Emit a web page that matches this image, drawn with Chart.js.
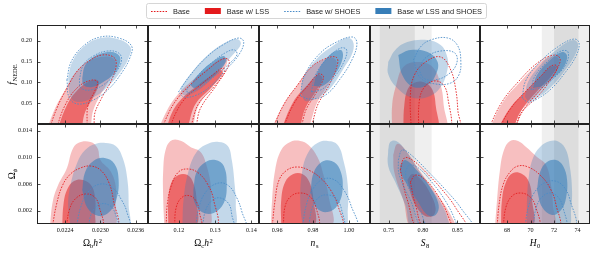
<!DOCTYPE html>
<html><head><meta charset="utf-8">
<script src="https://cdn.jsdelivr.net/npm/chart.js"></script>
<style>
html,body{margin:0;padding:0;background:#fff;}
#wrap{position:relative;width:598px;height:254px;overflow:hidden;background:#fff;}
#wrap canvas{position:absolute;left:0;top:0;}
</style></head><body><div id="wrap"></div>
<script>
// ---------------- axes: ranges, ticks, tick labels ----------------
const obh2Range = [0.02192, 0.02381];
const obh2Ticks = [0.0224, 0.0230, 0.0236];
const obh2TickLabels = ['0.0224', '0.0230', '0.0236'];
const och2Range = [0.1115, 0.1421];
const och2Ticks = [0.12, 0.13, 0.14];
const och2TickLabels = ['0.12', '0.13', '0.14'];
const nsRange = [0.9499, 1.0118];
const nsTicks = [0.96, 0.98, 1.00];
const nsTickLabels = ['0.96', '0.98', '1.00'];
const s8Range = [0.7228, 0.8830];
const s8Ticks = [0.75, 0.80, 0.85];
const s8TickLabels = ['0.75', '0.80', '0.85'];
const h0Range = [65.70, 75.06];
const h0Ticks = [68, 70, 72, 74];
const h0TickLabels = ['68', '70', '72', '74'];
const fnedeRange = [0, 0.2376];
const fnedeTicks = [0.05, 0.10, 0.15, 0.20];
const fnedeTickLabels = ['0.05', '0.10', '0.15', '0.20'];
const omphiRange = [0, 0.0150];
const omphiTicks = [0.002, 0.006, 0.010, 0.014];
const omphiTickLabels = ['0.002', '0.006', '0.010', '0.014'];

// external priors (grey bands): 68% and 95% intervals
const s8Band68 = [0.737, 0.788];
const s8Band95 = [0.7125, 0.8125];
const h0Band68 = [72.00, 74.08];
const h0Band95 = [70.96, 75.12];

// legend
const seriesNames = ['Base', 'Base w/ LSS', 'Base w/ SHOES', 'Base w/ LSS and SHOES'];

// ---------------- contour data (68% / 95% regions) ----------------
// Omega_b h^2 vs f_NEDE
const obh2_fnede_base95 = [[0.02211,-0.02],[0.02226,0.0384],[0.02243,0.0864],[0.02262,0.1296],[0.02283,0.1536],[0.02303,0.1656],[0.02322,0.1608],[0.02327,0.144],[0.02319,0.1056],[0.02303,0.0648],[0.02291,0.0288],[0.02283,-0.02]];
const obh2_fnede_base68 = [[0.02223,-0.02],[0.0224,0.0456],[0.02262,0.0888],[0.02286,0.1056],[0.02295,0.1008],[0.02291,0.0816],[0.02279,0.0456],[0.02271,-0.02]];
const obh2_fnede_lss95 = [[0.02207,-0.02],[0.02223,0.0384],[0.0224,0.0816],[0.02257,0.1224],[0.02278,0.1488],[0.023,0.1608],[0.02321,0.1584],[0.02326,0.1416],[0.02317,0.1104],[0.023,0.0696],[0.02288,0.0336],[0.02276,-0.02]];
const obh2_fnede_lss68 = [[0.02225,-0.02],[0.02243,0.0456],[0.02261,0.0816],[0.02279,0.1008],[0.02295,0.1056],[0.02297,0.0936],[0.02288,0.0648],[0.02274,0.0288],[0.02262,-0.02]];
const obh2_fnede_shoes95 = [[0.02243,0.1056],[0.0225,0.1488],[0.02271,0.1872],[0.023,0.2088],[0.02331,0.2064],[0.02353,0.1872],[0.0235,0.1584],[0.02336,0.1224],[0.02314,0.084],[0.02288,0.0576],[0.02262,0.048],[0.02247,0.0624]];
const obh2_fnede_shoes68 = [[0.02264,0.1056],[0.02271,0.1416],[0.02288,0.1632],[0.02312,0.1752],[0.02331,0.1704],[0.02336,0.1536],[0.02327,0.1248],[0.02307,0.096],[0.02283,0.0816],[0.02267,0.0864]];
const obh2_fnede_both95 = [[0.02245,0.1104],[0.02252,0.1488],[0.02271,0.1848],[0.023,0.2064],[0.02329,0.204],[0.02351,0.1848],[0.02348,0.1584],[0.02334,0.1248],[0.02312,0.0888],[0.02286,0.0624],[0.02261,0.0528],[0.02249,0.0648]];
const obh2_fnede_both68 = [[0.02269,0.1104],[0.02274,0.1416],[0.02288,0.1608],[0.02312,0.1728],[0.02329,0.168],[0.02334,0.1536],[0.02326,0.1248],[0.02305,0.1008],[0.02286,0.0888],[0.02271,0.0936]];
// Omega_b h^2 vs Omega_phi
const obh2_omphi_base95 = [[0.02218,-0.0005],[0.02225,0.00285],[0.02235,0.0057],[0.02249,0.0075],[0.02266,0.0084],[0.02283,0.0087],[0.023,0.0081],[0.02314,0.0063],[0.02322,0.0036],[0.02326,-0.0005]];
const obh2_omphi_base68 = [[0.02242,-0.0005],[0.02247,0.0021],[0.02257,0.00375],[0.02274,0.0045],[0.0229,0.00405],[0.02298,0.00255],[0.02302,-0.0005]];
const obh2_omphi_lss95 = [[0.02214,-0.0003],[0.02219,0.00345],[0.02228,0.00585],[0.02243,0.0084],[0.02252,0.0111],[0.02262,0.01215],[0.02283,0.0123],[0.02295,0.0114],[0.023,0.0096],[0.02317,0.00795],[0.02326,0.0057],[0.02326,0.00285],[0.02322,-0.0003]];
const obh2_omphi_lss68 = [[0.02235,-0.0003],[0.02237,0.00285],[0.02243,0.0051],[0.02255,0.00645],[0.02271,0.0066],[0.02285,0.0057],[0.02291,0.0039],[0.02291,0.0015],[0.02288,-0.0003]];
const obh2_omphi_shoes95 = [[0.02259,-0.0005],[0.02266,0.0024],[0.02279,0.0048],[0.023,0.006],[0.02321,0.0054],[0.02336,0.0036],[0.02345,0.0018],[0.02348,-0.0005]];
const obh2_omphi_shoes68 = [[0.02279,-0.0005],[0.02286,0.0018],[0.023,0.003],[0.02317,0.0027],[0.02326,0.00135],[0.02329,-0.0005]];
const obh2_omphi_both95 = [[0.02249,-0.0003],[0.02245,0.00285],[0.02249,0.00585],[0.02261,0.0093],[0.02274,0.0111],[0.02291,0.012],[0.02309,0.01215],[0.02326,0.0117],[0.02338,0.0099],[0.02346,0.0066],[0.02348,0.00285],[0.02346,-0.0003]];
const obh2_omphi_both68 = [[0.02269,0.0051],[0.02274,0.0078],[0.02288,0.00945],[0.02307,0.0099],[0.02324,0.009],[0.02331,0.0066],[0.02327,0.0036],[0.02315,0.0018],[0.02297,0.0012],[0.02278,0.0024]];
// Omega_c h^2 vs f_NEDE
const och2_fnede_base95 = [[0.1149,-0.02],[0.1176,0.0336],[0.1204,0.0696],[0.1240,0.1008],[0.1279,0.1296],[0.1315,0.1536],[0.1335,0.156],[0.1338,0.1416],[0.1304,0.0936],[0.1260,0.0384],[0.1235,-0.02]];
const och2_fnede_base68 = [[0.1171,-0.02],[0.1193,0.0288],[0.1221,0.0648],[0.1260,0.0936],[0.1296,0.12],[0.1321,0.1344],[0.1326,0.1248],[0.1296,0.0888],[0.1254,0.048],[0.1221,-0.02]];
const och2_fnede_lss95 = [[0.1140,-0.02],[0.1168,0.0336],[0.1196,0.0696],[0.1232,0.1008],[0.1274,0.1296],[0.1310,0.1536],[0.1329,0.1584],[0.1332,0.144],[0.1299,0.096],[0.1254,0.0432],[0.1226,-0.02]];
const och2_fnede_lss68 = [[0.1163,-0.02],[0.1182,0.0288],[0.1210,0.0624],[0.1246,0.0888],[0.1288,0.1152],[0.1315,0.1296],[0.1321,0.12],[0.1288,0.0864],[0.1246,0.048],[0.1213,-0.02]];
const och2_fnede_shoes95 = [[0.1199,0.0768],[0.1232,0.1176],[0.1274,0.1584],[0.1321,0.1896],[0.1365,0.2064],[0.1379,0.1968],[0.1365,0.1656],[0.1329,0.1296],[0.1288,0.0912],[0.1249,0.0696],[0.1215,0.0648]];
const och2_fnede_shoes68 = [[0.1221,0.0816],[0.1254,0.1176],[0.1293,0.1488],[0.1332,0.1728],[0.1354,0.1776],[0.1360,0.1656],[0.1332,0.1392],[0.1293,0.1104],[0.1254,0.0864],[0.1226,0.0744]];
const och2_fnede_both95 = [[0.1204,0.0864],[0.1232,0.12],[0.1274,0.1608],[0.1321,0.192],[0.1360,0.204],[0.1371,0.192],[0.1351,0.168],[0.1315,0.1344],[0.1276,0.096],[0.1240,0.0744],[0.1213,0.0696]];
const och2_fnede_both68 = [[0.1232,0.0936],[0.1260,0.1248],[0.1296,0.1512],[0.1324,0.1632],[0.1329,0.1488],[0.1307,0.1224],[0.1274,0.1008],[0.1243,0.0864]];
// Omega_c h^2 vs Omega_phi
const och2_omphi_base95 = [[0.1165,-0.0005],[0.1168,0.00285],[0.1179,0.0057],[0.1199,0.0078],[0.1226,0.00825],[0.1254,0.00765],[0.1279,0.006],[0.1296,0.0036],[0.1301,-0.0005]];
const och2_omphi_base68 = [[0.1188,-0.0005],[0.1193,0.00255],[0.1210,0.00405],[0.1232,0.0042],[0.1249,0.0033],[0.1257,0.00165],[0.1260,-0.0005]];
const och2_omphi_lss95 = [[0.1160,-0.0003],[0.1157,0.0036],[0.1157,0.0081],[0.1165,0.0114],[0.1182,0.0126],[0.1207,0.01245],[0.1232,0.01155],[0.1260,0.0108],[0.1276,0.00885],[0.1288,0.00585],[0.1288,0.00285],[0.1282,-0.0003]];
const och2_omphi_lss68 = [[0.1171,-0.0003],[0.1171,0.0036],[0.1179,0.00615],[0.1199,0.00735],[0.1224,0.00735],[0.1240,0.00615],[0.1249,0.0036],[0.1246,-0.0003]];
const och2_omphi_shoes95 = [[0.1246,-0.0005],[0.1257,0.00285],[0.1279,0.0051],[0.1310,0.00615],[0.1338,0.0057],[0.1360,0.0039],[0.1374,0.0018],[0.1382,-0.0005]];
const och2_omphi_shoes68 = [[0.1265,-0.0005],[0.1274,0.0021],[0.1293,0.0036],[0.1315,0.0039],[0.1338,0.003],[0.1346,0.00135],[0.1349,-0.0005]];
const och2_omphi_both95 = [[0.1210,-0.0003],[0.1213,0.0036],[0.1226,0.0078],[0.1249,0.0108],[0.1279,0.012],[0.1310,0.0123],[0.1335,0.0117],[0.1346,0.0096],[0.1354,0.00585],[0.1357,0.00285],[0.1351,-0.0003]];
const och2_omphi_both68 = [[0.1240,0.0051],[0.1249,0.0078],[0.1274,0.0093],[0.1301,0.0096],[0.1324,0.0087],[0.1332,0.00585],[0.1324,0.00315],[0.1296,0.00165],[0.1263,0.0018],[0.1243,0.0033]];
// n_s vs f_NEDE
const ns_fnede_base95 = [[0.9566,-0.02],[0.9639,0.048],[0.9718,0.096],[0.9791,0.1368],[0.9865,0.156],[0.9927,0.1608],[0.9938,0.1464],[0.9893,0.096],[0.9831,0.0504],[0.9758,-0.02]];
const ns_fnede_base68 = [[0.9623,-0.02],[0.9696,0.0504],[0.9775,0.0936],[0.9831,0.12],[0.9859,0.1128],[0.9820,0.0768],[0.9763,0.036],[0.9713,-0.02]];
const ns_fnede_lss95 = [[0.9561,-0.02],[0.9634,0.0456],[0.9713,0.0936],[0.9786,0.1344],[0.9859,0.1536],[0.9915,0.1584],[0.9932,0.144],[0.9887,0.096],[0.9825,0.0528],[0.9746,-0.02]];
const ns_fnede_lss68 = [[0.9617,-0.02],[0.9690,0.0528],[0.9769,0.0936],[0.9825,0.1176],[0.9853,0.1104],[0.9814,0.0768],[0.9758,0.0384],[0.9707,-0.02]];
const ns_fnede_shoes95 = [[0.9729,0.0672],[0.9752,0.1152],[0.9836,0.168],[0.9932,0.1968],[1.0022,0.2088],[1.0045,0.1944],[1.0022,0.1584],[0.9955,0.1104],[0.9870,0.0696],[0.9786,0.06]];
const ns_fnede_shoes68 = [[0.9791,0.0768],[0.9814,0.1176],[0.9882,0.1584],[0.9955,0.1824],[0.9988,0.1776],[0.9972,0.1488],[0.9915,0.1104],[0.9853,0.084]];
const ns_fnede_both95 = [[0.9735,0.0744],[0.9746,0.1104],[0.9820,0.156],[0.9910,0.1872],[0.9988,0.2064],[1.0022,0.1992],[1.0022,0.1728],[0.9972,0.1344],[0.9898,0.0864],[0.9825,0.0624],[0.9758,0.0552]];
const ns_fnede_both68 = [[0.9803,0.0912],[0.9825,0.1248],[0.9893,0.1656],[0.9955,0.1776],[0.9966,0.1584],[0.9921,0.1176],[0.9853,0.0912]];
// n_s vs Omega_phi
const ns_omphi_base95 = [[0.9572,-0.0005],[0.9589,0.0036],[0.9611,0.0066],[0.9656,0.0081],[0.9713,0.00855],[0.9775,0.0081],[0.9842,0.0069],[0.9898,0.0051],[0.9938,0.00285],[0.9955,-0.0005]];
const ns_omphi_base68 = [[0.9634,-0.0005],[0.9645,0.0027],[0.9679,0.0042],[0.9729,0.00465],[0.9780,0.0042],[0.9814,0.0027],[0.9825,-0.0005]];
const ns_omphi_lss95 = [[0.9566,-0.0003],[0.9572,0.0036],[0.9589,0.0081],[0.9623,0.0111],[0.9673,0.0123],[0.9729,0.01245],[0.9775,0.01185],[0.9825,0.01005],[0.9859,0.00735],[0.9887,0.0042],[0.9898,-0.0003]];
const ns_omphi_lss68 = [[0.9623,-0.0003],[0.9623,0.0036],[0.9645,0.0063],[0.9690,0.0075],[0.9741,0.0075],[0.9780,0.0063],[0.9803,0.0036],[0.9803,-0.0003]];
const ns_omphi_shoes95 = [[0.9741,-0.0005],[0.9763,0.00285],[0.9803,0.0054],[0.9859,0.00675],[0.9921,0.0066],[0.9972,0.0051],[1.0011,0.00285],[1.0039,-0.0005]];
const ns_omphi_shoes68 = [[0.9775,-0.0005],[0.9797,0.00255],[0.9836,0.00405],[0.9887,0.00435],[0.9932,0.00375],[0.9960,0.0021],[0.9966,-0.0005]];
const ns_omphi_both95 = [[0.9741,-0.0003],[0.9729,0.0036],[0.9741,0.0081],[0.9775,0.0108],[0.9825,0.01215],[0.9882,0.01245],[0.9938,0.01185],[0.9972,0.0093],[0.9994,0.00585],[0.9994,0.0021],[0.9977,-0.0003]];
const ns_omphi_both68 = [[0.9786,0.0048],[0.9803,0.00765],[0.9848,0.0093],[0.9904,0.00945],[0.9949,0.00825],[0.9966,0.0054],[0.9938,0.00285],[0.9882,0.0018],[0.9820,0.0024]];
// S_8 vs f_NEDE
const s8_fnede_base95 = [[0.7831,-0.02],[0.7816,0.0696],[0.7875,0.1176],[0.8037,0.1488],[0.8257,0.1608],[0.8404,0.1296],[0.8478,0.0816],[0.8507,0.0336],[0.8522,-0.02]];
const s8_fnede_base68 = [[0.7934,-0.02],[0.7948,0.0576],[0.8022,0.0888],[0.8154,0.1032],[0.8286,0.096],[0.8360,0.0648],[0.8375,-0.02]];
const s8_fnede_lss95 = [[0.7551,-0.02],[0.7551,0.0456],[0.7610,0.0936],[0.7713,0.1368],[0.7919,0.1488],[0.8139,0.1368],[0.8257,0.0936],[0.8301,0.0456],[0.8316,-0.02]];
const s8_fnede_lss68 = [[0.7713,-0.02],[0.7728,0.0456],[0.7787,0.0864],[0.7904,0.1008],[0.8037,0.0984],[0.8139,0.0816],[0.8184,0.0456],[0.8198,-0.02]];
const s8_fnede_shoes95 = [[0.7860,0.1536],[0.7963,0.1848],[0.8110,0.2016],[0.8360,0.2064],[0.8507,0.1872],[0.8551,0.1488],[0.8522,0.1176],[0.8404,0.0984],[0.8184,0.096],[0.7963,0.1104]];
const s8_fnede_shoes68 = [[0.7934,0.1344],[0.8051,0.1608],[0.8257,0.1752],[0.8463,0.1704],[0.8492,0.1464],[0.8375,0.12],[0.8169,0.1056],[0.8007,0.1104]];
const s8_fnede_both95 = [[0.7493,0.1488],[0.7596,0.1776],[0.7772,0.1968],[0.8066,0.2016],[0.8257,0.1896],[0.8345,0.1656],[0.8360,0.1344],[0.8257,0.0888],[0.8066,0.0648],[0.7816,0.0648],[0.7610,0.0888],[0.7493,0.12]];
const s8_fnede_both68 = [[0.7640,0.1656],[0.7816,0.1776],[0.8066,0.1728],[0.8213,0.1488],[0.8184,0.1176],[0.8066,0.0936],[0.7860,0.0888],[0.7698,0.1176]];
// S_8 vs Omega_phi
const s8_omphi_base95 = [[0.7669,0.0081],[0.7728,0.0099],[0.7845,0.0096],[0.8037,0.0078],[0.8257,0.0054],[0.8478,0.0024],[0.8625,-0.0009],[0.7963,-0.0009],[0.7772,0.0036]];
const s8_omphi_base68 = [[0.7816,0.0063],[0.7890,0.00735],[0.8037,0.0066],[0.8213,0.00435],[0.8360,0.00135],[0.8404,-0.0009],[0.8037,-0.0009],[0.7890,0.00285]];
const s8_omphi_lss95 = [[0.7566,0.01035],[0.7625,0.012],[0.7743,0.0111],[0.7963,0.0078],[0.8213,0.00435],[0.8404,0.00135],[0.8463,-0.0009],[0.7860,-0.0009],[0.7713,0.0036],[0.7581,0.0078]];
const s8_omphi_lss68 = [[0.7772,0.0066],[0.7845,0.0075],[0.7963,0.00675],[0.8095,0.0048],[0.8184,0.0024],[0.8139,0.0012],[0.8007,0.00135],[0.7860,0.00345]];
const s8_omphi_shoes95 = [[0.7640,0.0096],[0.7698,0.0111],[0.7845,0.0102],[0.8081,0.0078],[0.8331,0.0051],[0.8551,0.0024],[0.8727,-0.0009],[0.8037,-0.0009],[0.7816,0.0036],[0.7654,0.00735]];
const s8_omphi_shoes68 = [[0.7743,0.0078],[0.7801,0.00885],[0.7934,0.0084],[0.8139,0.00615],[0.8345,0.00315],[0.8478,0.0003],[0.8507,-0.0009],[0.8110,-0.0009],[0.7934,0.00285],[0.7772,0.00585]];
const s8_omphi_both95 = [[0.7493,0.0111],[0.7522,0.0123],[0.7610,0.01245],[0.7743,0.0111],[0.7934,0.0081],[0.8139,0.0051],[0.8301,0.0024],[0.8375,0.0003],[0.8404,-0.0009],[0.7860,-0.0009],[0.7743,0.00285],[0.7596,0.0063],[0.7493,0.0087]];
const s8_omphi_both68 = [[0.7669,0.00885],[0.7743,0.0096],[0.7919,0.00795],[0.8110,0.0054],[0.8228,0.00285],[0.8184,0.00135],[0.8066,0.00135],[0.7919,0.00345],[0.7772,0.00585],[0.7669,0.0078]];
// H_0 vs f_NEDE
const h0_fnede_base95 = [[66.30,-0.02],[67.57,0.0528],[69.02,0.1032],[70.47,0.144],[71.66,0.1632],[72.34,0.1632],[72.51,0.1488],[71.74,0.108],[70.64,0.0672],[69.19,0.0264],[68.43,-0.02]];
const h0_fnede_base68 = [[67.15,-0.02],[68.34,0.0384],[69.79,0.084],[70.89,0.1152],[71.74,0.1392],[72.26,0.1392],[71.91,0.1152],[70.89,0.084],[69.45,0.036],[68.26,-0.02]];
const h0_fnede_lss95 = [[66.38,-0.02],[67.66,0.0528],[69.11,0.1008],[70.55,0.1416],[71.66,0.1608],[72.26,0.1608],[72.43,0.1464],[71.66,0.1104],[70.55,0.0696],[69.11,0.0288],[68.26,-0.02]];
const h0_fnede_lss68 = [[67.06,-0.02],[68.26,0.0384],[69.70,0.0816],[70.81,0.1128],[71.66,0.1368],[72.17,0.1368],[71.83,0.1176],[70.81,0.0864],[69.36,0.0384],[68.17,-0.02]];
const h0_fnede_shoes95 = [[69.28,0.0624],[69.62,0.1056],[70.89,0.1512],[72.43,0.1872],[73.70,0.204],[74.13,0.1944],[73.87,0.1632],[72.85,0.12],[71.74,0.084],[70.55,0.06],[69.79,0.0528]];
const h0_fnede_shoes68 = [[70.04,0.0816],[70.38,0.1152],[71.49,0.1512],[72.60,0.1752],[73.19,0.1728],[73.02,0.144],[72.08,0.1128],[70.98,0.0888]];
const h0_fnede_both95 = [[69.53,0.0648],[69.79,0.1008],[70.98,0.1464],[72.51,0.1848],[73.62,0.2016],[74.04,0.192],[73.79,0.1656],[72.77,0.1224],[71.66,0.0864],[70.55,0.0624],[69.87,0.0552]];
const h0_fnede_both68 = [[70.21,0.0864],[70.55,0.1176],[71.66,0.1536],[72.68,0.1728],[73.11,0.1632],[72.77,0.1344],[71.91,0.1104],[70.98,0.0912]];
// H_0 vs Omega_phi
const h0_omphi_base95 = [[67.15,-0.0005],[67.32,0.00285],[67.66,0.00585],[68.26,0.0078],[68.94,0.0087],[69.79,0.00855],[70.81,0.00735],[71.66,0.0054],[72.17,0.00285],[72.34,-0.0005]];
const h0_omphi_base68 = [[67.66,-0.0005],[67.91,0.00255],[68.43,0.0042],[69.11,0.00465],[69.87,0.0042],[70.38,0.00285],[70.64,-0.0005]];
const h0_omphi_lss95 = [[66.98,-0.0003],[67.15,0.0036],[67.40,0.0081],[67.74,0.0111],[68.26,0.01245],[68.94,0.01245],[69.62,0.01155],[70.55,0.01005],[71.32,0.00885],[71.74,0.00585],[71.91,0.00285],[71.91,-0.0003]];
const h0_omphi_lss68 = [[67.49,-0.0003],[67.57,0.0036],[67.91,0.0063],[68.51,0.00765],[69.28,0.0075],[69.87,0.0063],[70.13,0.0036],[70.13,-0.0003]];
const h0_omphi_shoes95 = [[69.53,-0.0005],[69.79,0.0024],[70.30,0.00465],[71.15,0.00615],[72.08,0.00645],[72.85,0.00555],[73.36,0.0036],[73.70,-0.0005]];
const h0_omphi_shoes68 = [[70.21,-0.0005],[70.47,0.0024],[70.98,0.00405],[71.66,0.00465],[72.34,0.00405],[72.77,0.0024],[72.94,-0.0005]];
const h0_omphi_both95 = [[69.70,-0.0003],[69.70,0.0036],[69.87,0.00735],[70.21,0.0099],[70.81,0.01155],[71.66,0.01245],[72.43,0.0123],[73.02,0.0111],[73.36,0.0084],[73.53,0.0051],[73.45,0.0021],[73.19,-0.0003]];
const h0_omphi_both68 = [[70.55,0.0051],[70.81,0.0078],[71.40,0.0093],[72.17,0.0096],[72.77,0.0087],[73.11,0.0066],[73.02,0.0039],[72.60,0.0021],[71.83,0.00135],[70.98,0.00255]];

// ---------------- tables built from the arrays above ----------------
function set8(base95, base68, lss95, lss68, shoes95, shoes68, both95, both68) {
  return {base95, base68, lss95, lss68, shoes95, shoes68, both95, both68};
}
const contours = {
  obh2_fnede: set8(obh2_fnede_base95, obh2_fnede_base68, obh2_fnede_lss95, obh2_fnede_lss68, obh2_fnede_shoes95, obh2_fnede_shoes68, obh2_fnede_both95, obh2_fnede_both68),
  obh2_omphi: set8(obh2_omphi_base95, obh2_omphi_base68, obh2_omphi_lss95, obh2_omphi_lss68, obh2_omphi_shoes95, obh2_omphi_shoes68, obh2_omphi_both95, obh2_omphi_both68),
  och2_fnede: set8(och2_fnede_base95, och2_fnede_base68, och2_fnede_lss95, och2_fnede_lss68, och2_fnede_shoes95, och2_fnede_shoes68, och2_fnede_both95, och2_fnede_both68),
  och2_omphi: set8(och2_omphi_base95, och2_omphi_base68, och2_omphi_lss95, och2_omphi_lss68, och2_omphi_shoes95, och2_omphi_shoes68, och2_omphi_both95, och2_omphi_both68),
  ns_fnede: set8(ns_fnede_base95, ns_fnede_base68, ns_fnede_lss95, ns_fnede_lss68, ns_fnede_shoes95, ns_fnede_shoes68, ns_fnede_both95, ns_fnede_both68),
  ns_omphi: set8(ns_omphi_base95, ns_omphi_base68, ns_omphi_lss95, ns_omphi_lss68, ns_omphi_shoes95, ns_omphi_shoes68, ns_omphi_both95, ns_omphi_both68),
  s8_fnede: set8(s8_fnede_base95, s8_fnede_base68, s8_fnede_lss95, s8_fnede_lss68, s8_fnede_shoes95, s8_fnede_shoes68, s8_fnede_both95, s8_fnede_both68),
  s8_omphi: set8(s8_omphi_base95, s8_omphi_base68, s8_omphi_lss95, s8_omphi_lss68, s8_omphi_shoes95, s8_omphi_shoes68, s8_omphi_both95, s8_omphi_both68),
  h0_fnede: set8(h0_fnede_base95, h0_fnede_base68, h0_fnede_lss95, h0_fnede_lss68, h0_fnede_shoes95, h0_fnede_shoes68, h0_fnede_both95, h0_fnede_both68),
  h0_omphi: set8(h0_omphi_base95, h0_omphi_base68, h0_omphi_lss95, h0_omphi_lss68, h0_omphi_shoes95, h0_omphi_shoes68, h0_omphi_both95, h0_omphi_both68)
};
const axes = {
  obh2: {range: obh2Range, ticks: obh2Ticks, labels: obh2TickLabels},
  och2: {range: och2Range, ticks: och2Ticks, labels: och2TickLabels},
  ns: {range: nsRange, ticks: nsTicks, labels: nsTickLabels},
  s8: {range: s8Range, ticks: s8Ticks, labels: s8TickLabels},
  h0: {range: h0Range, ticks: h0Ticks, labels: h0TickLabels},
  fnede: {range: fnedeRange, ticks: fnedeTicks, labels: fnedeTickLabels},
  omphi: {range: omphiRange, ticks: omphiTicks, labels: omphiTickLabels}
};
const bands = {
  s8: [[s8Band95, '#efefef'], [s8Band68, '#dddddd']],
  h0: [[h0Band95, '#efefef'], [h0Band68, '#dddddd']]
};
const titles = {
  obh2: [['Ω','n'],['b','sub'],['h','i'],['2','sup']],
  och2: [['Ω','n'],['c','sub'],['h','i'],['2','sup']],
  ns: [['n','i'],['s','sub']],
  s8: [['S','i'],['8','sub']],
  h0: [['H','i'],['0','sub']],
  fnede: [['f','i'],['NEDE','sub']],
  omphi: [['Ω','n'],['ϕ','subi']]
};

// ---------------- styling / layout ----------------
const RED = '#e41a1c', BLUE = '#377eb8', LBLUE = '#4a8cc8';
const styles = {
  shoes68: {line: LBLUE}, shoes95: {line: LBLUE},
  base68: {line: RED}, base95: {line: RED},
  both68: {fill: 'rgba(55,126,184,0.58)'}, both95: {fill: 'rgba(55,126,184,0.30)'},
  lss68: {fill: 'rgba(228,26,28,0.52)'}, lss95: {fill: 'rgba(228,26,28,0.28)'}
};
const drawOrder = ['shoes68','shoes95','base68','base95','both68','both95','lss68','lss95']; // first = on top
const colEdges = [37, 148, 259, 370, 480, 590];
const rowEdges = [25, 124, 224];
const W = 598, H = 254;
const SERIF = "'Liberation Serif','DejaVu Serif',serif";
const SANS = "'Liberation Sans','DejaVu Sans',sans-serif";
const xNames = ['obh2','och2','ns','s8','h0'];
const yNames = ['fnede','omphi'];
const wrap = document.getElementById('wrap');

function drawRich(ctx, parts, cx, cy, rotate) {
  const big = 9.5, small = 6.5;
  const fonts = parts.map(([t, k]) => {
    const sz = (k === 'sub' || k === 'subi' || k === 'sup') ? small : big;
    const it = (k === 'i' || k === 'subi') ? 'italic ' : '';
    return it + sz + 'px ' + SERIF;
  });
  const ws = []; let w = 0;
  parts.forEach((p, i) => { ctx.font = fonts[i]; const m = ctx.measureText(p[0]).width + (p[1]==='i' ? 0.6 : 0); ws.push(m); w += m; });
  ctx.save();
  ctx.translate(cx, cy);
  if (rotate) ctx.rotate(-Math.PI / 2);
  ctx.fillStyle = '#000'; ctx.textBaseline = 'alphabetic'; ctx.textAlign = 'left';
  let x = -w / 2;
  parts.forEach((p, i) => {
    ctx.font = fonts[i];
    let dy = 0;
    if (p[1] === 'sub' || p[1] === 'subi') dy = 1.8;
    if (p[1] === 'sup') dy = -3.6;
    ctx.fillText(p[0], x, 3.3 + dy);
    x += ws[i];
  });
  ctx.restore();
}

const decoPlugin = {
  id: 'panelDeco',
  beforeDatasetsDraw(chart, args, o) {
    const b = bands[o.xName]; if (!b) return;
    const {ctx, chartArea: a, scales: {x}} = chart;
    ctx.save();
    ctx.beginPath(); ctx.rect(a.left, a.top, a.right - a.left, a.bottom - a.top); ctx.clip();
    for (const [iv, col] of b) {
      const p0 = x.getPixelForValue(iv[0]), p1 = x.getPixelForValue(iv[1]);
      ctx.fillStyle = col; ctx.fillRect(p0, a.top, p1 - p0, a.bottom - a.top);
    }
    ctx.restore();
  },
  afterDatasetsDraw(chart, args, o) {
    const {ctx, chartArea: a, scales: {x, y}} = chart;
    ctx.save();
    ctx.strokeStyle = '#222'; ctx.lineWidth = 1;
    ctx.beginPath();
    ctx.moveTo(a.left + 0.5, a.top); ctx.lineTo(a.left + 0.5, a.bottom);
    ctx.moveTo(a.right - 0.5, a.top); ctx.lineTo(a.right - 0.5, a.bottom);
    ctx.moveTo(a.left, a.top + 0.5); ctx.lineTo(a.right, a.top + 0.5);
    ctx.moveTo(a.left, a.bottom - 0.5); ctx.lineTo(a.right, a.bottom - 0.5);
    ctx.stroke();
    const T = 3.5;
    ctx.lineWidth = 0.8;
    ctx.beginPath();
    for (const v of axes[o.xName].ticks) {
      const px = Math.round(x.getPixelForValue(v)) + 0.5;
      ctx.moveTo(px, a.top); ctx.lineTo(px, a.top + T);
      ctx.moveTo(px, a.bottom); ctx.lineTo(px, a.bottom - T);
    }
    for (const v of axes[o.yName].ticks) {
      const py = Math.round(y.getPixelForValue(v)) + 0.5;
      ctx.moveTo(a.left, py); ctx.lineTo(a.left + T, py);
      ctx.moveTo(a.right, py); ctx.lineTo(a.right - T, py);
    }
    ctx.stroke();
    ctx.restore();
  },
  afterDraw(chart, args, o) {
    const {ctx, chartArea: a} = chart;
    if (o.row === 1) drawRich(ctx, titles[o.xName], (a.left + a.right) / 2, 243, false);
    if (o.col === 0) drawRich(ctx, titles[o.yName], 12, (a.top + a.bottom) / 2, true);
  }
};

function makeDatasets(set) {
  return drawOrder.map((key, i) => {
    const pts = set[key].map(p => ({x: p[0], y: p[1]}));
    pts.push({x: set[key][0][0], y: set[key][0][1]});
    const st = styles[key];
    const ds = {label: key, data: pts, order: i, pointRadius: 0, tension: 0.4, clip: 0};
    if (st.fill) {
      Object.assign(ds, {fill: 'shape', backgroundColor: st.fill, borderColor: 'rgba(0,0,0,0)', borderWidth: 1});
    } else {
      Object.assign(ds, {fill: false, borderColor: st.line, borderWidth: 0.85, borderDash: [1.6, 1.3]});
    }
    return ds;
  });
}

function makePanel(col, row) {
  const xName = xNames[col], yName = yNames[row];
  const cv = document.createElement('canvas');
  cv.width = W; cv.height = H; cv.style.width = W + 'px'; cv.style.height = H + 'px';
  wrap.appendChild(cv);
  const showY = col === 0, showX = row === 1;
  const yW = showY ? colEdges[0] : 0;
  const xH = showX ? H - rowEdges[2] : 0;
  const xa = axes[xName], ya = axes[yName];
  new Chart(cv, {
    type: 'line',
    data: {datasets: makeDatasets(contours[xName + '_' + yName])},
    options: {
      responsive: false, animation: false, devicePixelRatio: 1, events: [],
      layout: {padding: {left: colEdges[col] - yW, right: W - colEdges[col + 1], top: rowEdges[row], bottom: H - rowEdges[row + 1] - xH}},
      elements: {line: {capBezierPoints: false}},
      plugins: {legend: {display: false}, tooltip: {enabled: false}, panelDeco: {col, row, xName, yName}},
      scales: {
        x: {
          type: 'linear', min: xa.range[0], max: xa.range[1], display: showX,
          grid: {display: false, drawTicks: false}, border: {display: false},
          afterBuildTicks: s => { s.ticks = xa.ticks.map(v => ({value: v})); },
          ticks: {autoSkip: false, maxRotation: 0, padding: 3, color: '#111', font: {family: SERIF, size: 6.2},
                  callback: (v, i) => xa.labels[i]},
          afterFit: s => { s.height = xH; }
        },
        y: {
          type: 'linear', min: ya.range[0], max: ya.range[1], display: showY,
          grid: {display: false, drawTicks: false}, border: {display: false},
          afterBuildTicks: s => { s.ticks = ya.ticks.map(v => ({value: v})); },
          ticks: {autoSkip: false, padding: 5, color: '#111', font: {family: SERIF, size: 6.2},
                  callback: (v, i) => ya.labels[i]},
          afterFit: s => { s.width = yW; }
        }
      }
    },
    plugins: [decoPlugin]
  });
}

for (let r = 0; r < 2; r++) for (let c = 0; c < 5; c++) makePanel(c, r);

// ---------------- figure legend (drawn by a plugin on its own chart) ----------------
const legendKinds = [
  {kind: 'line', color: RED},
  {kind: 'patch', color: RED},
  {kind: 'line', color: LBLUE},
  {kind: 'patch', color: BLUE}
];
const figLegend = {
  id: 'figLegend',
  afterDraw(chart) {
    const ctx = chart.ctx;
    const cy = 11, x0 = 146, sample = 16, gap = 6, sep = 15;
    ctx.save();
    ctx.font = '7.4px ' + SANS; ctx.textBaseline = 'middle'; ctx.textAlign = 'left';
    let x = 151;
    seriesNames.forEach((name, i) => {
      const k = legendKinds[i];
      if (k.kind === 'line') {
        ctx.strokeStyle = k.color; ctx.lineWidth = 1; ctx.setLineDash([1.6, 1.3]);
        ctx.beginPath(); ctx.moveTo(x, cy + 0.5); ctx.lineTo(x + sample, cy + 0.5); ctx.stroke();
        ctx.setLineDash([]);
      } else {
        ctx.fillStyle = k.color; ctx.fillRect(x, cy - 3, sample, 6);
      }
      x += sample + gap;
      ctx.fillStyle = '#222'; ctx.fillText(name, x, cy + 0.5);
      x += ctx.measureText(name).width;
      if (i < seriesNames.length - 1) x += sep;
    });
    ctx.strokeStyle = '#cccccc'; ctx.lineWidth = 0.8;
    ctx.beginPath(); ctx.roundRect(x0 + 0.5, 3.5, Math.round(x + 4 - x0), 15, 2); ctx.stroke();
    ctx.restore();
  }
};
const lcv = document.createElement('canvas');
lcv.width = W; lcv.height = 24; lcv.style.width = W + 'px'; lcv.style.height = '24px';
wrap.appendChild(lcv);
new Chart(lcv, {
  type: 'line',
  data: {datasets: []},
  options: {
    responsive: false, animation: false, devicePixelRatio: 1, events: [],
    scales: {x: {display: false}, y: {display: false}},
    plugins: {tooltip: {enabled: false}, legend: {display: false}}
  },
  plugins: [figLegend]
});
</script></body></html>
